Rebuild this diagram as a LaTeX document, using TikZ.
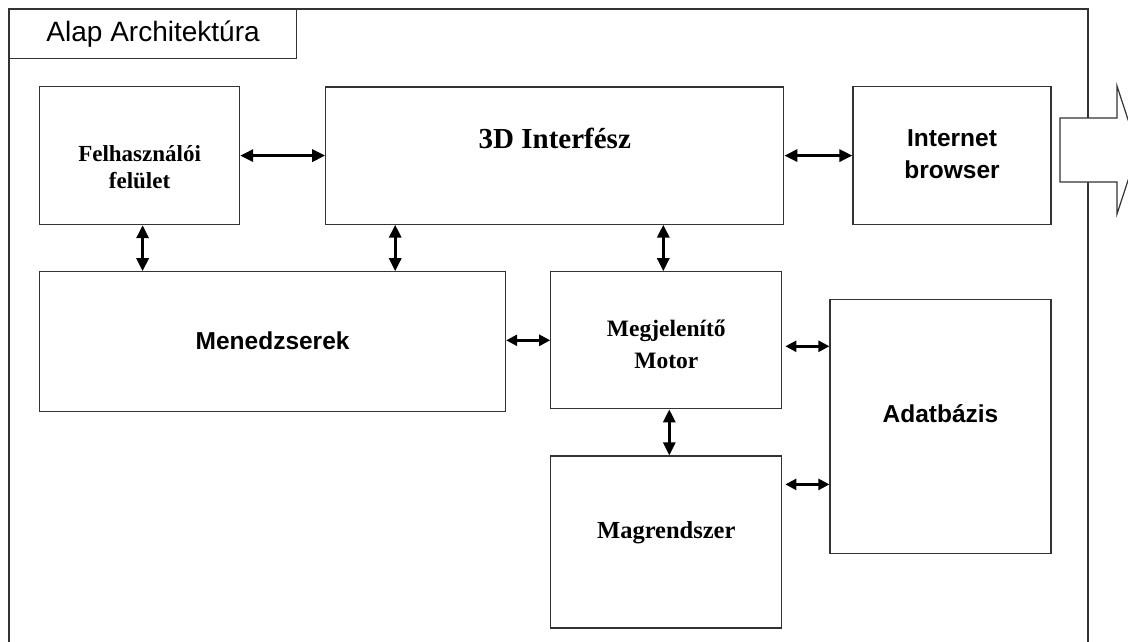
\documentclass[tikz,border=0pt]{standalone}
\usepackage{fontspec}
\setmainfont{Liberation Serif}
\setsansfont{Liberation Sans}
\usetikzlibrary{arrows.meta, positioning}
\definecolor{alapline}{HTML}{333333}
\definecolor{alaparrow}{HTML}{000000}
\tikzset{
  frame/.style={draw=alapline, line width=1.2pt},
  titlebox/.style={rectangle, draw=alapline, line width=1.2pt, minimum width=287pt, minimum height=49pt,
    font=\sffamily\fontsize{28}{30}\selectfont, anchor=north west, inner sep=0pt},
  modbox/.style={rectangle, draw=alapline, line width=1.2pt, inner sep=0pt},
  serlbl/.style={font=\bfseries\fontsize{23.5}{32}\selectfont, align=center},
  sanlbl/.style={font=\sffamily\bfseries\fontsize{24.5}{32}\selectfont, align=center},
  thickarr/.style={{Triangle[length=13pt,width=12pt]}-{Triangle[length=13pt,width=12pt]}, line width=3pt, alaparrow},
  thinarr/.style={{Triangle[length=11pt,width=11pt]}-{Triangle[length=11pt,width=11pt]}, line width=2.5pt, alaparrow},
  outarr/.style={draw=alapline, line width=1.2pt, fill=white},
}
\begin{document}
\begin{tikzpicture}[x=1pt, y=-1pt]
    \useasboundingbox (0,0) rectangle (1128,642);
    \clip (0,0) rectangle (1128,642);
    % Outer frame and title
    \draw[frame] (9,9) rectangle (1088,680);
    \node[titlebox] (title) at (9,9) {Alap Architektúra};
    % Top row
    \node[modbox, minimum width=200pt, minimum height=138pt, anchor=north west,
      label={[serlbl, font=\bfseries\fontsize{23}{27}\selectfont, yshift=-12pt]center:{Felhasználói\\felület}}] (felh) at (39,86) {};
    \node[modbox, minimum width=458pt, minimum height=137pt, right=85pt of felh,
      label={[serlbl, font=\bfseries\fontsize{29}{32}\selectfont, yshift=17pt]center:{3D Interfész}}] (iface) {};
    \node[modbox, minimum width=198pt, minimum height=138pt, right=68pt of iface,
      label={[sanlbl, yshift=1pt]center:{Internet\\browser}}] (browser) {};
    % Middle row
    \node[modbox, minimum width=466pt, minimum height=140pt, below=46pt of felh.south west, anchor=north west,
      label={[sanlbl, yshift=1pt]center:{Menedzserek}}] (menedz) {};
    \node[modbox, minimum width=231pt, minimum height=137pt, right=44pt of menedz.north east, anchor=north west,
      label={[serlbl, yshift=-4pt]center:{Megjelenítő\\Motor}}] (megj) {};
    \node[modbox, minimum width=221pt, minimum height=254pt, below right=28pt and 47pt of megj.north east, anchor=north west,
      label={[sanlbl, yshift=13pt]center:{Adatbázis}}] (adat) {};
    % Bottom row
    \node[modbox, minimum width=231pt, minimum height=172pt, below=46pt of megj.south west, anchor=north west,
      label={[serlbl, font=\bfseries\fontsize{24.5}{32}\selectfont, yshift=9pt]center:{Magrendszer}}] (magr) {};

    % Connectors
    \draw[thickarr] (felh.east) -- (felh.east -| iface.west);
    \draw[thickarr] (iface.east) -- (iface.east -| browser.west);
    \draw[thickarr] ([xshift=3pt]felh.south) -- ([xshift=3pt]felh.south |- menedz.north);
    \draw[thickarr] ([xshift=70pt]iface.south west) -- ([xshift=70pt]iface.south west |- menedz.north);
    \draw[thickarr] ([xshift=-3pt]megj.north) -- ([xshift=-3pt]megj.north |- iface.south);
    \draw[thickarr] ([xshift=3pt]megj.south) -- ([xshift=3pt]megj.south |- magr.north);
    \draw[thinarr] (menedz.east |- megj.west) -- (megj.west);
    \draw[thinarr] ([xshift=3pt, yshift=-6pt]megj.east) -- ([yshift=-6pt]megj.east -| adat.west);
    \draw[thinarr] ([xshift=3pt, yshift=-29pt]magr.north east) -- ([yshift=-29pt]magr.north east -| adat.west);

    % Outgoing arrow
    \draw[outarr] (1060,118) -- (1117,118) -- (1117,86) -- (1138,150) -- (1117,214)
      -- (1117,182) -- (1060,182) -- cycle;
  \end{tikzpicture}
\end{document}
